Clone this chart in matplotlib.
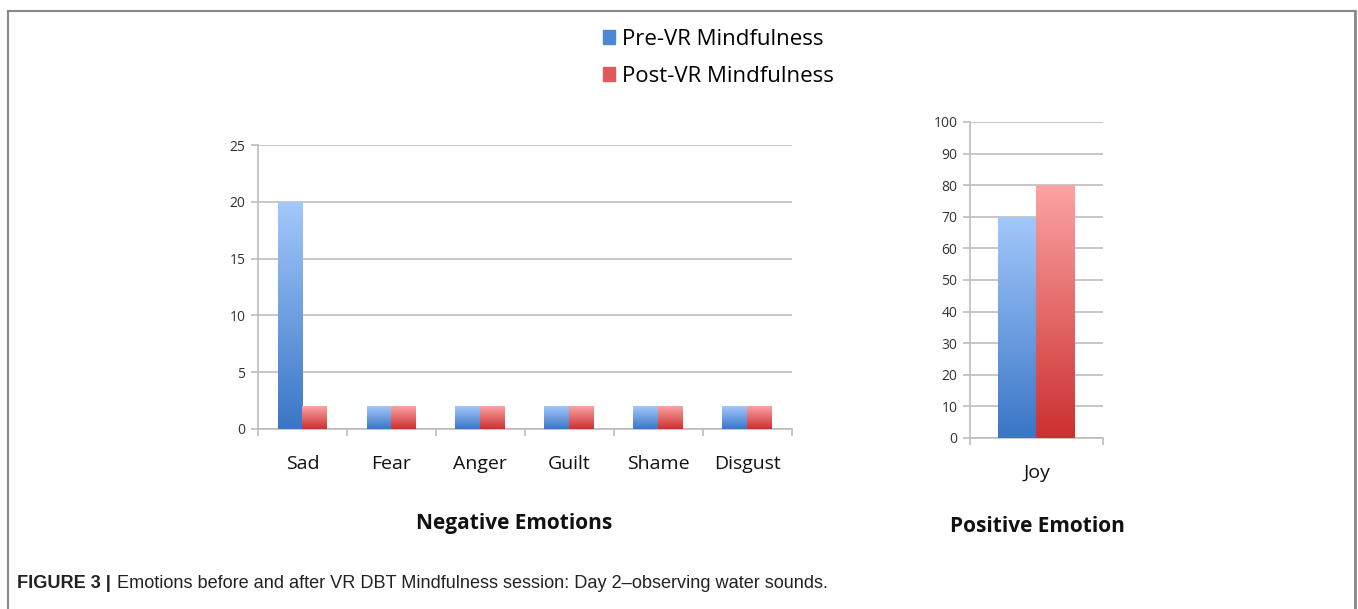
import numpy as np
import matplotlib
matplotlib.use("Agg")
import matplotlib.pyplot as plt
from matplotlib.colors import LinearSegmentedColormap
from matplotlib.lines import Line2D

# data
neg_labels = ["Sad", "Fear", "Anger", "Guilt", "Shame", "Disgust"]
neg_pre = [20, 2, 2, 2, 2, 2]
neg_post = [2, 2, 2, 2, 2, 2]
pos_labels = ["Joy"]
pos_pre = [70]
pos_post = [80]
series_names = ["Pre-VR Mindfulness", "Post-VR Mindfulness"]

BLUE_TOP, BLUE_BOT = "#a3c8fb", "#3a76c6"
RED_TOP, RED_BOT = "#fca3a3", "#cc3030"
GRID = "#bdbdbd"
FONT = "Open Sans"

plt.rcParams["font.family"] = [FONT, "DejaVu Sans"]


def gradient_bars(ax, bars, top, bottom):
    cmap = LinearSegmentedColormap.from_list("g", [bottom, top])
    grad = np.linspace(0, 1, 256).reshape(-1, 1)
    for b in bars:
        x, y = b.get_xy()
        w, h = b.get_width(), b.get_height()
        im = ax.imshow(grad, extent=[x, x + w, y, y + h], origin="lower",
                       cmap=cmap, aspect="auto", zorder=3)
        im.set_clip_path(b)


def style_axes(ax, ymax, step):
    ax.set_ylim(0, ymax)
    ax.set_yticks(np.arange(0, ymax + 1, step))
    ax.yaxis.grid(True, color=GRID, linewidth=1.2)
    ax.set_axisbelow(True)
    for s in ["top", "right"]:
        ax.spines[s].set_visible(False)
    for s in ["left", "bottom"]:
        ax.spines[s].set_color(GRID)
        ax.spines[s].set_linewidth(1.2)
    ax.tick_params(axis="y", colors=GRID, labelcolor="#333333", labelsize=10,
                   length=5, width=1.2, pad=4)
    ax.tick_params(axis="x", which="major", length=0, labelsize=14,
                   labelcolor="#111111", pad=19)
    ax.tick_params(axis="x", which="minor", length=5, width=1.2, colors=GRID)


fig = plt.figure(figsize=(13.58, 6.09), dpi=100)

# negative emotions
ax1 = fig.add_axes([0.190, 0.2956, 0.393, 0.4663])
x = np.arange(len(neg_labels))
w = 0.28
b1 = ax1.bar(x - w / 2, neg_pre, w, color=BLUE_BOT, zorder=2)
b2 = ax1.bar(x + w / 2, neg_post, w, color=RED_BOT, zorder=2)
gradient_bars(ax1, b1, BLUE_TOP, BLUE_BOT)
gradient_bars(ax1, b2, RED_TOP, RED_BOT)
ax1.set_xlim(-0.5, len(neg_labels) - 0.5)
style_axes(ax1, 25, 5)
ax1.set_xticks(x)
ax1.set_xticklabels(neg_labels)
ax1.set_xticks(np.arange(len(neg_labels) + 1) - 0.5, minor=True)

# positive emotion
ax2 = fig.add_axes([0.7143, 0.2808, 0.0979, 0.5189])
x2 = np.arange(len(pos_labels))
w2 = 0.29
c1 = ax2.bar(x2 - w2 / 2, pos_pre, w2, color=BLUE_BOT, zorder=2)
c2 = ax2.bar(x2 + w2 / 2, pos_post, w2, color=RED_BOT, zorder=2)
gradient_bars(ax2, c1, BLUE_TOP, BLUE_BOT)
gradient_bars(ax2, c2, RED_TOP, RED_BOT)
ax2.set_xlim(-0.5, len(pos_labels) - 0.5)
style_axes(ax2, 100, 10)
ax2.set_xticks(x2)
ax2.set_xticklabels(pos_labels)
ax2.set_xticks([-0.5, 0.5], minor=True)

# group titles
fig.text(514 / 1358, 1 - 523 / 609, "Negative Emotions", ha="center", va="center",
         fontsize=15, fontweight="bold", color="#111111")
fig.text(1037 / 1358, 1 - 527 / 609, "Positive Emotion", ha="center", va="center",
         fontsize=15, fontweight="bold", color="#111111")

# legend
handles = [plt.Rectangle((0, 0), 1, 1, color="#4d88d6"),
           plt.Rectangle((0, 0), 1, 1, color="#e05a5a")]
fig.legend(handles, series_names, loc="center left",
           bbox_to_anchor=(603 / 1358, 1 - 58 / 609), frameon=False,
           fontsize=16, handlelength=0.55, handleheight=0.55,
           handletextpad=0.3, labelspacing=0.72, borderpad=0, borderaxespad=0)

# frame lines
fig.add_artist(Line2D([8 / 1358, 1355 / 1358], [1 - 11 / 609] * 2,
                      transform=fig.transFigure, color="#888888", lw=1.5))
fig.add_artist(Line2D([8 / 1358] * 2, [0, 1 - 11 / 609],
                      transform=fig.transFigure, color="#888888", lw=1.5))
fig.add_artist(Line2D([1355 / 1358] * 2, [0, 1 - 11 / 609],
                      transform=fig.transFigure, color="#888888", lw=2))

# caption
cap_y = 1 - 583 / 609
cap_font = ["Liberation Sans", "DejaVu Sans"]
t = fig.text(17 / 1358, cap_y, "FIGURE 3 |", fontsize=13.1, fontweight="bold",
             family=cap_font, va="center", color="#222222")
fig.canvas.draw()
bb = t.get_window_extent()
fig.text(bb.x1 / fig.bbox.width + 6 / 1358, cap_y,
         "Emotions before and after VR DBT Mindfulness session: Day 2\u2013observing water sounds.",
         fontsize=13.1, family=cap_font, va="center", color="#222222")

fig.savefig("out.png", dpi=100)
